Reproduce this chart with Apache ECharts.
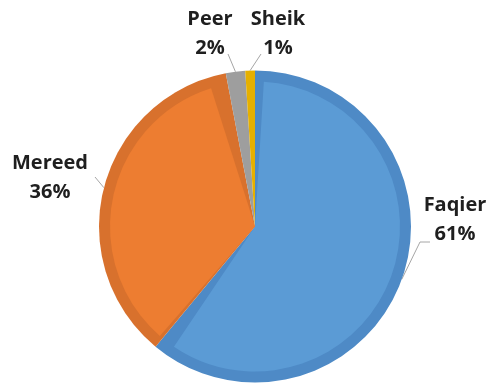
<!DOCTYPE html>
<html>
<head>
<meta charset="utf-8">
<script src="https://cdn.jsdelivr.net/npm/echarts@6/dist/echarts.min.js"></script>
<style>
  html, body { margin: 0; padding: 0; background: #ffffff; }
  #chart { width: 487px; height: 386px; }
</style>
</head>
<body>
<div id="chart"></div>
<script>
// Share of each group
const names = ['Faqier', 'Mereed', 'Peer', 'Sheik'];
const shares = [61, 36, 2, 1];

// Slice fill and the darker edge band around each slice
const fillColors = ['#5B9BD5', '#ED7D31', '#A5A5A5', '#E6B000'];
const edgeColors = ['#4E8AC6', '#D8712D', '#9E9E9E', '#E6B000'];

// Where each label block sits and where its leader line meets it
const labelSpots = {
  Faqier: { x: 455, y: 220, line: [[420, 242], [430, 242]] },
  Mereed: { x: 50,  y: 178, line: [[95, 177]] },
  Peer:   { x: 210, y: 34,  line: [[228, 54]] },
  Sheik:  { x: 278, y: 34,  line: [[261, 54]] }
};

const center = [255, 226.5];
const outerR = 156;
const innerR = 145;

const chart = echarts.init(document.getElementById('chart'), null, { renderer: 'canvas' });

const edgeData = names.map((n, i) => ({ name: n, value: shares[i], itemStyle: { color: edgeColors[i] } }));
const fillData = names.map((n, i) => ({ name: n, value: shares[i], itemStyle: { color: fillColors[i] } }));

chart.setOption({
  backgroundColor: '#ffffff',
  animation: false,
  series: [
    {
      // full-size slices in the darker edge colour
      type: 'pie',
      center: center,
      radius: outerR,
      startAngle: 90,
      clockwise: true,
      data: edgeData,
      itemStyle: { borderWidth: 0 },
      label: {
        show: true,
        position: 'outside',
        formatter: p => p.name + '\n' + Math.round(p.percent) + '%',
        fontFamily: 'Open Sans',
        fontWeight: 'bold',
        fontSize: 20,
        lineHeight: 29,
        color: '#1f1f1f',
        align: 'center',
        overflow: 'none',
        width: 120
      },
      labelLine: {
        show: true,
        length: 10,
        length2: 10,
        lineStyle: { color: '#A6A6A6', width: 1 }
      },
      labelLayout: function (params) {
        const spot = labelSpots[names[params.dataIndex]];
        if (!spot) return {};
        const out = { x: spot.x, y: spot.y, align: 'center', verticalAlign: 'middle' };
        const pts = params.labelLinePoints;
        if (pts && pts.length) {
          out.labelLinePoints = [pts[0]].concat(spot.line);
        }
        return out;
      },
      emphasis: { disabled: true }
    },
    {
      // lighter inner slices, inset from the edges
      type: 'pie',
      center: center,
      radius: innerR,
      startAngle: 90,
      clockwise: true,
      padAngle: 7,
      data: fillData,
      silent: true,
      label: { show: false },
      labelLine: { show: false },
      emphasis: { disabled: true }
    }
  ]
});
</script>
</body>
</html>
